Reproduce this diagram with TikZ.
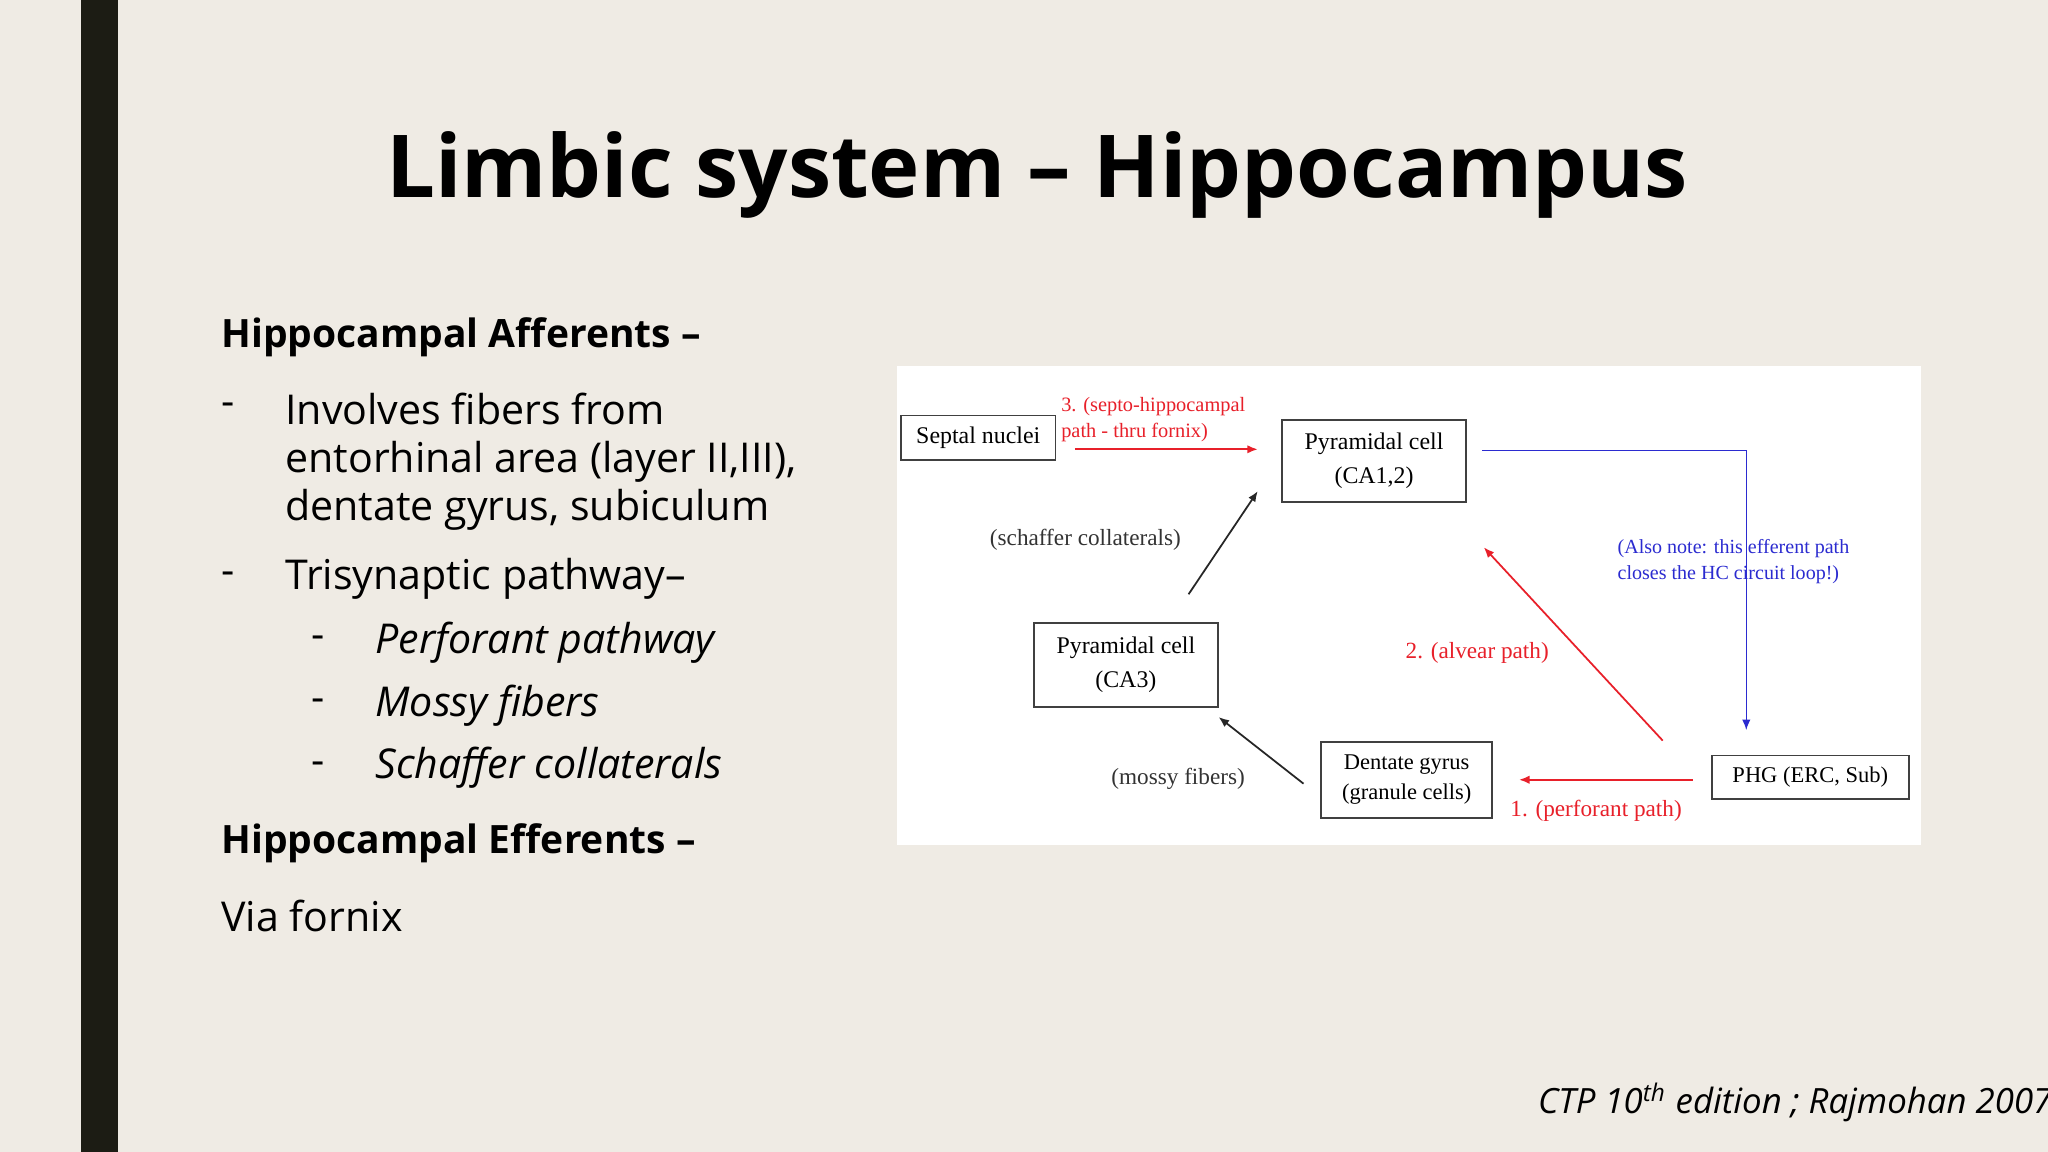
\documentclass[tikz,border=0pt]{standalone}
\usepackage{fontspec}
\setmainfont{Open Sans}
\newfontfamily\tnr{Liberation Serif}
\usetikzlibrary{arrows.meta}
\definecolor{bg}{HTML}{EFEBE4}
\definecolor{bar}{HTML}{1C1C14}
\definecolor{dred}{HTML}{E8202A}
\definecolor{dblue}{HTML}{2B2BD0}
\tikzset{
 box/.style={draw=black!75,line width=0.5pt,fill=white,font=\tnr\fontsize{6.8}{9.7}\selectfont,align=center,inner sep=0pt},
 lab/.style={font=\tnr\fontsize{6.6}{8}\selectfont,inner sep=0pt},
 body/.style={font=\fontsize{11.7}{13.7}\selectfont,anchor=west,inner sep=0pt},
 con/.style={line width=0.5pt,-{Latex[length=3pt,width=2.4pt]}},
}
\begin{document}
\begin{tikzpicture}[x=0.013061cm,y=-0.013061cm]
\fill[bg] (0,0) rectangle (1568,882);
\useasboundingbox (0,0) rectangle (1568,882);
\fill[bar] (62,0) rectangle (90,882);
\node[font=\bfseries\fontsize{24.7}{28}\selectfont,inner sep=0pt] (title) at (794,134) {Limbic system – Hippocampus};
\node[body,font=\bfseries\fontsize{11.1}{13.7}\selectfont] (h1) at (169,258) {Hippocampal Afferents –};
\node[body] (d1) at (169,313) {-};
\node[body,align=left,anchor=north west] (t1) at (218,300) {Involves fibers from\\entorhinal area (layer II,III),\\dentate gyrus, subiculum};
\node[body] (d2) at (169,443) {-};
\node[body] (t2) at (218,443) {Trisynaptic pathway–};
\node[body] (d3) at (238,492) {-};
\node[body,font=\itshape\fontsize{11.7}{13.7}\selectfont] (t3) at (287,492) {Perforant pathway};
\node[body] (d4) at (238,540) {-};
\node[body,font=\itshape\fontsize{11.7}{13.7}\selectfont] (t4) at (287,540) {Mossy fibers};
\node[body] (d5) at (238,588) {-};
\node[body,font=\itshape\fontsize{11.7}{13.7}\selectfont] (t5) at (287,588) {Schaffer collaterals};
\node[body,font=\bfseries\fontsize{11.1}{13.7}\selectfont] (h2) at (169,646) {Hippocampal Efferents –};
\node[body] (t6) at (169,701) {Via fornix};
\node[body,font=\itshape\fontsize{9.9}{12}\selectfont] (cite) at (1177,844) {CTP 10\textsuperscript{th} edition ; Rajmohan 2007};
% diagram
\fill[white] (687,280) rectangle (1471,647);
\node[box,minimum width=43.9pt,minimum height=12.6pt] (sep) at (749,335) {Septal nuclei};
\node[box,minimum width=52.4pt,minimum height=23.4pt] (ca1) at (1052,353) {Pyramidal cell\\(CA1,2)};
\node[box,minimum width=52.4pt,minimum height=23.8pt] (ca3) at (862,509) {Pyramidal cell\\(CA3)};
\node[box,minimum width=48.7pt,minimum height=21.6pt,font=\tnr\fontsize{6.4}{8.5}\selectfont] (dg) at (1077,597) {Dentate gyrus\\(granule cells)};
\node[box,minimum width=56.1pt,minimum height=12.3pt,font=\tnr\fontsize{6.4}{8.5}\selectfont] (phg) at (1386,595) {PHG (ERC, Sub)};
\coordinate (a1) at (823,344); \coordinate (a2) at (963,344);
\draw[con,dred] (a1) -- (a2);
\node[lab,dred,align=left,anchor=west,font=\tnr\fontsize{5.8}{7.4}\selectfont] (l3) at (812,321) {3. (septo-hippocampal\\path - thru fornix)};
\coordinate (b1) at (1135,345); \coordinate (b2) at (1337,345); \coordinate (b3) at (1337,559);
\draw[con,dblue,line width=0.4pt] (b1) -- (b2) -- (b3);
\node[lab,dblue,align=left,anchor=west,font=\tnr\fontsize{5.7}{7.4}\selectfont] (lb) at (1238,430) {(Also note: this efferent path\\closes the HC circuit loop!)};
\coordinate (s1) at (910,455); \coordinate (s2) at (963,376);
\draw[con,black!85] (s1) -- (s2);
\node[lab,black!80] (ls) at (831,413) {(schaffer collaterals)};
\coordinate (r1) at (1273,567); \coordinate (r2) at (1136,419);
\draw[con,dred] (r1) -- (r2);
\node[lab,dred] (lr) at (1131,500) {2. (alvear path)};
\coordinate (m1) at (998,600); \coordinate (m2) at (933,549);
\draw[con,black!85] (m1) -- (m2);
\node[lab,black!80] (lm) at (902,596) {(mossy fibers)};
\coordinate (p1) at (1296,597); \coordinate (p2) at (1163,597);
\draw[con,dred] (p1) -- (p2);
\node[lab,dred] (lp) at (1222,621) {1. (perforant path)};
\end{tikzpicture}
\end{document}
